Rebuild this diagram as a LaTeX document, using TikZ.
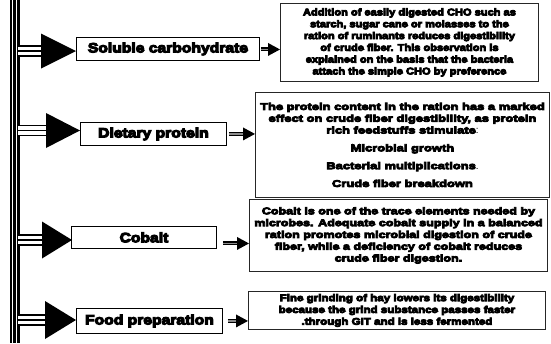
\documentclass[tikz,border=0pt]{standalone}
\usepackage{fontspec}
\usetikzlibrary{calc}
\newfontfamily\heavyw[FakeBold=8,FakeStretch=1.16]{Liberation Sans Bold}
\newfontfamily\hvA[FakeBold=8,FakeStretch=1.13]{Liberation Sans Bold}
\newfontfamily\hvB[FakeBold=8,FakeStretch=1.32]{Liberation Sans Bold}
\newfontfamily\hvC[FakeBold=8,FakeStretch=1.28]{Liberation Sans Bold}
\newfontfamily\hvD[FakeBold=8,FakeStretch=1.18]{Liberation Sans Bold}
\newfontfamily\lite{Liberation Sans}
\begin{document}
\begin{tikzpicture}[x=1pt,y=-1pt,
  lbl/.style={draw=black,line width=0.9pt,anchor=north west,inner sep=0pt,
    font=\heavyw\fontsize{13.5}{15}\selectfont,align=center},
  desc/.style={draw=black!85,line width=0.9pt,anchor=north west,inner sep=0pt,align=center},
  shaftout/.style={line width=4pt,black},
  shaftin/.style={line width=1.3pt,black!45},
  tripa/.style={line width=11.6pt,black},
  tripb/.style={line width=8.4pt,white},
  tripc/.style={line width=1.6pt,black}]
\useasboundingbox (0,0) rectangle (551,343);
\fill[white] (0,0) rectangle (551,343);
% trunk
\fill[black] (9.5,0) rectangle (12,343);
\fill[black] (13,0) rectangle (15.5,343);
\fill[black] (17.3,0) rectangle (19.5,343);

% left label boxes
\node[lbl,minimum width=183pt,minimum height=23pt] (sol) at (76,37) {Soluble carbohydrate};
\node[lbl,minimum width=146pt,minimum height=23pt] (diet) at (80,122) {Dietary protein};
\node[lbl,minimum width=145pt,minimum height=22pt] (cob) at (71,226) {Cobalt};
\node[lbl,minimum width=146pt,minimum height=25pt] (food) at (76,308) {Food preparation};

% description boxes
\node[desc,minimum width=258pt,minimum height=78pt,font=\hvA\fontsize{9.8}{11.8}\selectfont] (d1) at (280,3)
 {Addition of easily digested CHO such as\\ starch, sugar cane or molasses to the\\ ration of ruminants reduces digestibility\\ of crude fiber. This observation is\\ explained on the basis that the bacteria\\ attach the simple CHO by preference};
\node[desc,minimum width=294pt,minimum height=105pt,font=\hvB\fontsize{9.8}{11.8}\selectfont] (d2) at (255,92)
 {The protein content in the ration has a marked\\ effect on crude fiber digestibility, as protein\\ rich feedstuffs stimulate{\lite:}\\[6pt] Microbial growth\\[6pt] Bacterial multiplications{\lite.}\\[6pt] Crude fiber breakdown};
\node[desc,minimum width=298pt,minimum height=72pt,font=\hvC\fontsize{9.8}{11.8}\selectfont] (d3) at (249,199)
 {Cobalt is one of the trace elements needed by\\ microbes. Adequate cobalt supply in a balanced\\ ration promotes microbial digestion of crude\\ fiber, while a deficiency of cobalt reduces\\ crude fiber digestion.};
\node[desc,minimum width=297pt,minimum height=38pt,font=\hvD\fontsize{9.8}{11.8}\selectfont] (d4) at (248,291)
 {Fine grinding of hay lowers its digestibility\\ because the grind substance passes faster\\ .through GIT and is less fermented};

% trunk connection points and big arrowheads
\coordinate (t1) at (18,51);
\coordinate (t2) at (18,130.5);
\coordinate (t3) at (18,240);
\coordinate (t4) at (18,320);
\coordinate (b1) at (41,51);
\coordinate (b2) at (46,130.5);
\coordinate (b3) at (42,240);
\coordinate (b4) at (45,320);
\foreach \t/\b in {t1/b1,t2/b2,t3/b3,t4/b4}{
  \draw[tripa] (\t) -- (\b);
  \draw[tripb] (\t) -- (\b);
  \draw[tripc] (\t) -- (\b);
}
\fill[black] ($(b1)+(0,-17.5)$) -- (sol.west |- b1) -- ($(b1)+(0,17.5)$) -- cycle;
\fill[black] ($(b2)+(0,-17.5)$) -- (diet.west |- b2) -- ($(b2)+(0,17.5)$) -- cycle;
\fill[black] ($(b3)+(0,-18.5)$) -- ($(cob.west |- b3)+(1,0)$) -- ($(b3)+(0,18.5)$) -- cycle;
\fill[black] ($(b4)+(0,-19)$) -- (food.west |- b4) -- ($(b4)+(0,19)$) -- cycle;

% small arrows
\coordinate (s1) at ($(sol.east)+(1,0.5)$);
\coordinate (e1) at (d1.west |- s1);
\coordinate (s2) at ($(diet.east)+(2,0)$);
\coordinate (e2) at (d2.west |- s2);
\coordinate (s3) at ($(cob.east)+(6,6)$);
\coordinate (e3) at (d3.west |- s3);
\coordinate (s4) at ($(food.east)+(5,0)$);
\coordinate (e4) at (d4.west |- s4);
\foreach \s/\e in {s1/e1,s2/e2,s3/e3,s4/e4}{
  \draw[shaftout] (\s) -- ($(\e)+(-10,0)$);
  \draw[shaftin] (\s) -- ($(\e)+(-10,0)$);
  \fill[black] ($(\e)+(-12,-6.5)$) -- (\e) -- ($(\e)+(-12,6.5)$) -- cycle;
}
\end{tikzpicture}
\end{document}
